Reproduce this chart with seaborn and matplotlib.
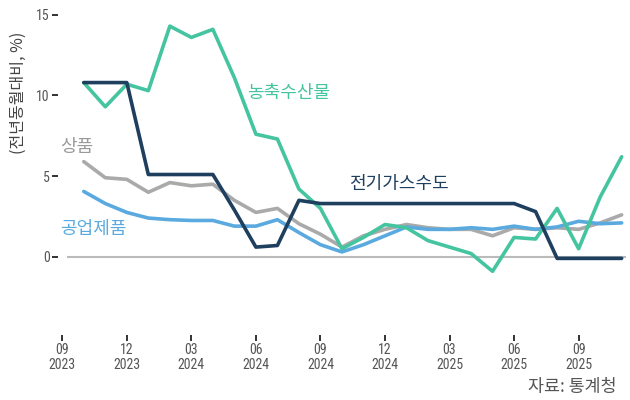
import pandas as pd
import seaborn as sns
import numpy as np
import matplotlib.pyplot as plt

# monthly series, Oct 2023 .. Nov 2025 (YoY %)
months = ['2023-10', '2023-11', '2023-12', '2024-01', '2024-02', '2024-03', '2024-04',
          '2024-05', '2024-06', '2024-07', '2024-08', '2024-09', '2024-10', '2024-11',
          '2024-12', '2025-01', '2025-02', '2025-03', '2025-04', '2025-05', '2025-06',
          '2025-07', '2025-08', '2025-09', '2025-10', '2025-11']

agri = [10.8, 9.3, 10.7, 10.3, 14.3, 13.6, 14.1, 11.1, 7.6, 7.3, 4.2, 3.0, 0.5,
        1.2, 2.0, 1.8, 1.0, 0.6, 0.2, -0.9, 1.2, 1.1, 3.0, 0.5, 3.7, 6.2]
utility = [10.8, 10.8, 10.8, 5.1, 5.1, 5.1, 5.1, 2.9, 0.6, 0.7, 3.5, 3.3, 3.3,
           3.3, 3.3, 3.3, 3.3, 3.3, 3.3, 3.3, 3.3, 2.8, -0.1, -0.1, -0.1, -0.1]
goods = [5.9, 4.9, 4.8, 4.0, 4.6, 4.4, 4.5, 3.5, 2.75, 3.0, 2.05, 1.4, 0.6,
         1.3, 1.7, 2.0, 1.8, 1.7, 1.7, 1.3, 1.8, 1.7, 1.8, 1.7, 2.1, 2.6]
industrial = [4.05, 3.3, 2.75, 2.4, 2.3, 2.25, 2.25, 1.9, 1.9, 2.3, 1.5, 0.75, 0.3,
              0.75, 1.3, 1.85, 1.7, 1.7, 1.8, 1.7, 1.9, 1.7, 1.85, 2.2, 2.05, 2.1]

tick_pos = [-1, 2, 5, 8, 11, 14, 17, 20, 23]
tick_labels = ['09\n2023', '12\n2023', '03\n2024', '06\n2024', '09\n2024',
               '12\n2024', '03\n2025', '06\n2025', '09\n2025']

names = ['상품', '공업제품', '농축수산물', '전기가스수도']
colors = {'상품': '#aaaaaa', '공업제품': '#5aaae0', '농축수산물': '#45c4a0', '전기가스수도': '#1f3f5f'}

sns.set_style('white')
plt.rcParams['font.family'] = ['Noto Sans CJK KR', 'DejaVu Sans']

x = np.arange(len(months))
df = pd.concat([
    pd.DataFrame({'x': x, 'value': goods, 'series': '상품'}),
    pd.DataFrame({'x': x, 'value': industrial, 'series': '공업제품'}),
    pd.DataFrame({'x': x, 'value': agri, 'series': '농축수산물'}),
    pd.DataFrame({'x': x, 'value': utility, 'series': '전기가스수도'}),
])

fig = plt.figure(figsize=(6.3, 4), dpi=100)
ax = fig.add_axes([0.092, 0.1625, 0.905, 0.8125])

ax.hlines(0, -0.8, 25.2, color='#bbbbbb', lw=1.5, zorder=1)
sns.lineplot(data=df, x='x', y='value', hue='series', hue_order=names,
             palette=colors, lw=2.6, ax=ax, legend=False, zorder=3)

ax.set_xlim(-1.2, 25.3)
ax.set_ylim(-4.85, 15.3)
ax.set_xticks(tick_pos)
ax.set_xticklabels(tick_labels)
ax.set_yticks([0, 5, 10, 15])
ax.set_xlabel('')
ax.set_ylabel('')
sns.despine(ax=ax, left=True, bottom=True)

ax.tick_params(axis='both', which='major', bottom=True, left=True, direction='out',
               length=4, width=1.4, color='#333333',
               labelcolor='#555555', labelsize=10, pad=2)
for lab in ax.get_xticklabels() + ax.get_yticklabels():
    lab.set_family(['Liberation Sans Narrow', 'Roboto Condensed', 'DejaVu Sans'])
    lab.set_stretch('condensed')
    lab.set_linespacing(1.05)

# direct labels
ax.text(7.6, 10.15, '농축수산물', color='#45c4a0', fontsize=13, va='center')
ax.text(12.35, 4.5, '전기가스수도', color='#1f3f5f', fontsize=13, va='center')
ax.text(-1.1, 6.8, '상품', color='#999999', fontsize=13, va='center')
ax.text(-1.1, 1.75, '공업제품', color='#5aaae0', fontsize=13, va='center')

fig.text(18 / 630, 1 - 93 / 400, '(전년동월대비, %)', rotation=90, fontsize=11.5,
         color='#444444', ha='center', va='center')
fig.text(617 / 630, 1 - 387 / 400, '자료: 통계청', fontsize=12.5, color='#555555',
         ha='right', va='center')

plt.savefig('out.png', dpi=100)
